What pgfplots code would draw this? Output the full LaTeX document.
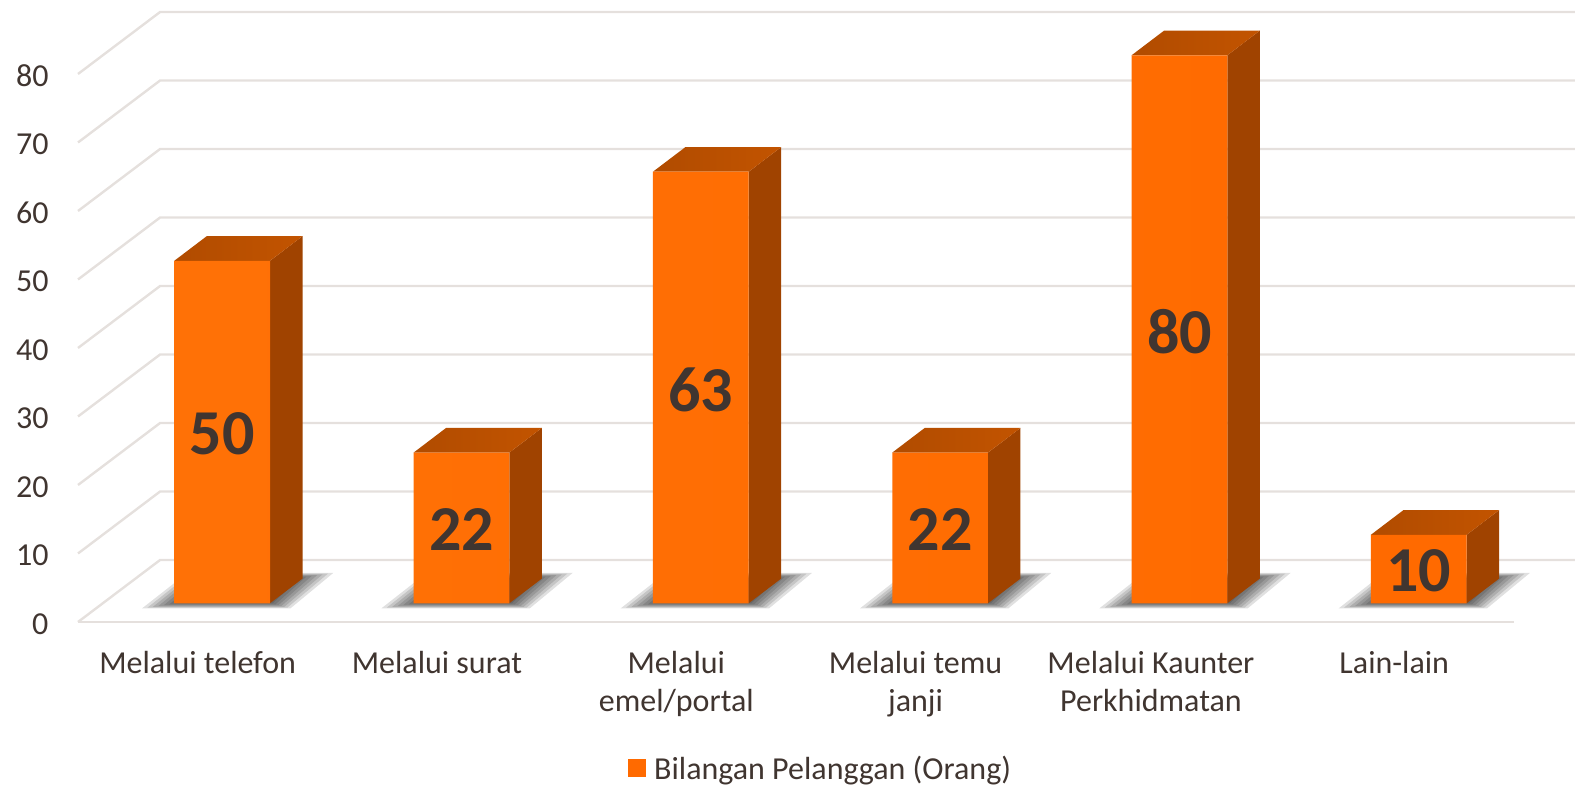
\documentclass[border=0pt]{standalone}
\usepackage{fontspec}
\setmainfont{Carlito}
\usepackage{pgfplots}
\pgfplotsset{compat=1.18}

\definecolor{gridc}{HTML}{E5E0DD}
\definecolor{textc}{HTML}{403530}
\definecolor{frontc}{HTML}{FF6A00}
\definecolor{frontl}{HTML}{FF7106}
\definecolor{topc}{HTML}{C05200}
\definecolor{sidec}{HTML}{A04300}

\pgfplotsset{
  chartbox/.style={
    scale only axis, width=1436pt, height=548pt,
    xmin=-0.5, xmax=5.5, ymin=0, ymax=80, clip=false,
  },
  wall/.style={draw=gridc, line width=2.4pt, no marks, forget plot},
  shade/.style={draw=none, fill=black, fill opacity=0.12, no marks, forget plot},
  side/.style={draw=none, fill=sidec, no marks, forget plot},
  topf/.style={draw=none, left color=topc!92!black, right color=topc!96!orange, no marks, forget plot},
}

% soft shadow: shrinking layers of the same floor patch
\newcommand{\shadowat}[1]{%
  \pgfplotsinvokeforeach{0,1,2,3,4,5,6,7}{
    \addplot[shade,
      x filter/.expression={0.067+(x-0.067)*(1-0.057*##1)+#1},
      y filter/.expression={1.94+(y-1.94)*(1-0.045*##1)}]
      coordinates {(-0.335,-0.75) (-0.145,4.45) (0.465,4.45) (0.285,-0.75)};
  }%
}

\begin{document}
\begin{tikzpicture}
\path[use as bounding box] (-78pt,-164pt) rectangle (1497pt,622pt);

% walls, ticks, category names, legend
\begin{axis}[
  chartbox,
  axis lines*=left,
  x axis line style={draw=gridc, line width=2.4pt},
  y axis line style={draw=none},
  xtick={0,1,2,3,4,5},
  xticklabels={Melalui telefon,Melalui surat,{Melalui\\emel/portal},{Melalui temu\\janji},{Melalui Kaunter\hspace*{8pt}\\Perkhidmatan\hspace*{8pt}},Lain-lain},
  ytick={0,10,...,80},
  major tick length=0pt,
  /pgf/number format/assume math mode=true,
  tick label style={text=textc, font=\fontsize{32}{38}\selectfont},
  x tick label style={align=center, yshift=-26pt},
  y tick label style={xshift=-26pt, yshift=-2pt},
  legend style={at={(0.5195,-0.267)}, anchor=center, draw=none, fill=none,
    font=\fontsize{32}{36}\selectfont, text=textc, nodes={inner xsep=9pt}},
  legend image code/.code={\fill[frontc] (0pt,-8pt) rectangle (17pt,9pt);},
]
\addplot[wall] coordinates {(-0.5,0) (-0.157,9.05) (5.755,9.05)};
\addplot[wall] coordinates {(-0.5,10) (-0.157,19.05) (5.755,19.05)};
\addplot[wall] coordinates {(-0.5,20) (-0.157,29.05) (5.755,29.05)};
\addplot[wall] coordinates {(-0.5,30) (-0.157,39.05) (5.755,39.05)};
\addplot[wall] coordinates {(-0.5,40) (-0.157,49.05) (5.755,49.05)};
\addplot[wall] coordinates {(-0.5,50) (-0.157,59.05) (5.755,59.05)};
\addplot[wall] coordinates {(-0.5,60) (-0.157,69.05) (5.755,69.05)};
\addplot[wall] coordinates {(-0.5,70) (-0.157,79.05) (5.755,79.05)};
\addplot[wall] coordinates {(-0.5,80) (-0.157,89.05) (5.755,89.05)};
\addlegendimage{frontc}
\addlegendentry{Bilangan Pelanggan (Orang)}
\end{axis}

% bars sit a little behind the front edge of the floor
\begin{axis}[chartbox, at={(24.5pt,18.7pt)}, hide axis]
\shadowat{0}
\shadowat{1}
\shadowat{2}
\shadowat{3}
\shadowat{4}
\shadowat{5}

\addplot[side] coordinates {(0.2,0) (0.3358,3.6) (0.3358,53.6) (0.2,50)};
\addplot[side] coordinates {(1.2,0) (1.3358,3.6) (1.3358,25.6) (1.2,22)};
\addplot[side] coordinates {(2.2,0) (2.3358,3.6) (2.3358,66.6) (2.2,63)};
\addplot[side] coordinates {(3.2,0) (3.3358,3.6) (3.3358,25.6) (3.2,22)};
\addplot[side] coordinates {(4.2,0) (4.3358,3.6) (4.3358,83.6) (4.2,80)};
\addplot[side] coordinates {(5.2,0) (5.3358,3.6) (5.3358,13.6) (5.2,10)};

\addplot[topf] coordinates {(-0.2,50) (-0.0642,53.6) (0.3358,53.6) (0.2,50)};
\addplot[topf] coordinates {(0.8,22) (0.9358,25.6) (1.3358,25.6) (1.2,22)};
\addplot[topf] coordinates {(1.8,63) (1.9358,66.6) (2.3358,66.6) (2.2,63)};
\addplot[topf] coordinates {(2.8,22) (2.9358,25.6) (3.3358,25.6) (3.2,22)};
\addplot[topf] coordinates {(3.8,80) (3.9358,83.6) (4.3358,83.6) (4.2,80)};
\addplot[topf] coordinates {(4.8,10) (4.9358,13.6) (5.3358,13.6) (5.2,10)};

\addplot[ybar, bar width=95.7pt, bar shift=0pt, draw=none, left color=frontl, right color=frontc, forget plot]
  coordinates {(0,50) (1,22) (2,63) (3,22) (4,80) (5,10)};

\addplot[draw=none, no marks, forget plot, point meta=explicit symbolic,
  nodes near coords,
  every node near coord/.append style={anchor=center, yshift=-2pt, text=textc,
    font=\fontsize{64}{64}\selectfont\bfseries}]
  table[x=c, y expr=\thisrow{v}/2, meta=v] {
c v
0 50
1 22
2 63
3 22
4 80
5 10
};
\end{axis}
\end{tikzpicture}
\end{document}
